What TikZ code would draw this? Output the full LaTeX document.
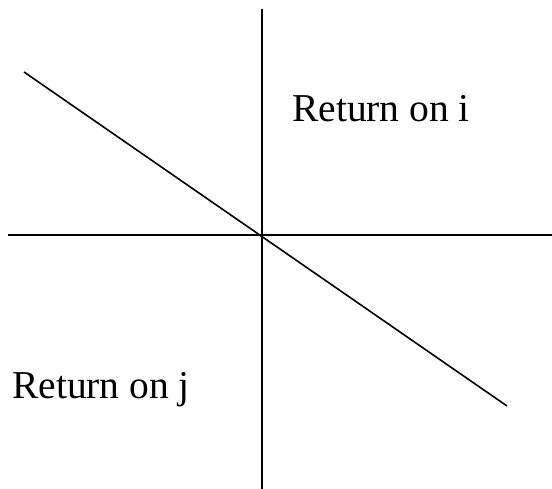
\documentclass[tikz,border=0pt]{standalone}
\usepackage{fontspec}
\setmainfont{Liberation Serif}
\begin{document}
\begin{tikzpicture}[x=1pt,y=1pt,
  axis/.style={line width=1.6pt,black},
  lbl/.style={inner sep=0pt,anchor=base west,font=\fontsize{39.5}{42}\selectfont}]
\useasboundingbox (0,0) rectangle (552,489);
\coordinate (vtop) at (262,480);
\coordinate (vbot) at (262,0);
\coordinate (hleft) at (8,254);
\coordinate (hright) at (552,254);
\coordinate (dstart) at (24,417);
\coordinate (dend) at (507,83);
\draw[axis] (vtop) -- (vbot);
\draw[axis] (hleft) -- (hright);
\draw[axis] (dstart) -- (dend);
\node[lbl] (ri) at (292,367) {Return on i};
\node[lbl] (rj) at (12,90) {Return on j};
\end{tikzpicture}
\end{document}
